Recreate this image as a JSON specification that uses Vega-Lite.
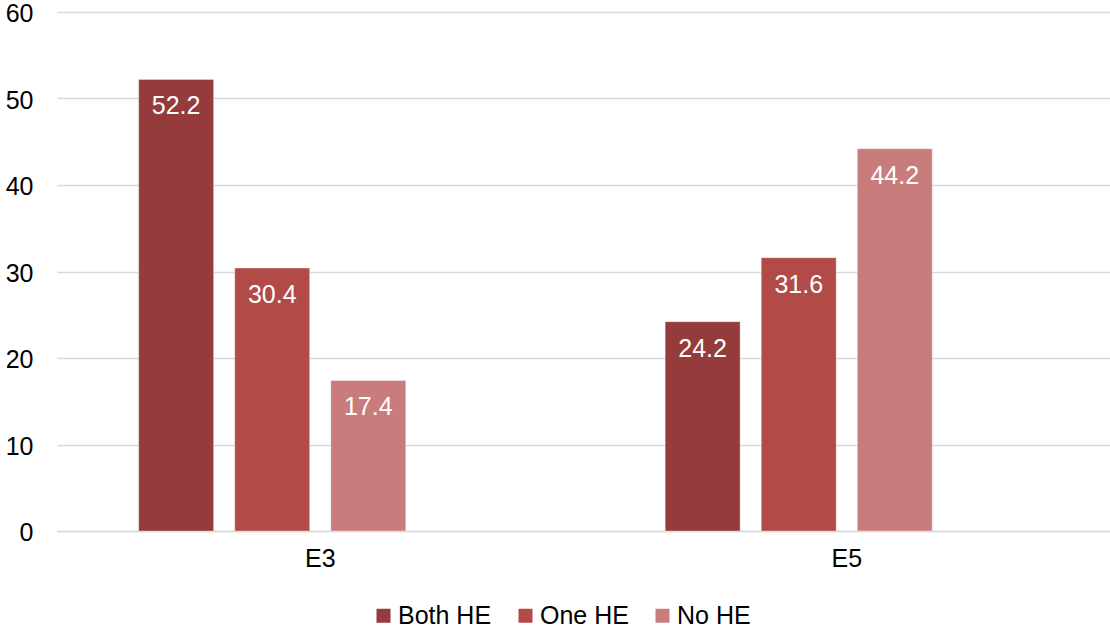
{
  "$schema": "https://vega.github.io/schema/vega-lite/v6.json",
  "width": 1053,
  "height": 519,
  "autosize": "none",
  "padding": {"left": 57, "top": 12, "right": 0, "bottom": 97},
  "background": "white",
  "config": {
    "view": {"stroke": null},
    "font": "Liberation Sans"
  },
  "data": {
    "values": [
      {"group": "E3", "series": "Both HE", "value": 52.2},
      {"group": "E3", "series": "One HE", "value": 30.4},
      {"group": "E3", "series": "No HE", "value": 17.4},
      {"group": "E5", "series": "Both HE", "value": 24.2},
      {"group": "E5", "series": "One HE", "value": 31.6},
      {"group": "E5", "series": "No HE", "value": 44.2}
    ]
  },
  "encoding": {
    "x": {
      "field": "group",
      "type": "nominal",
      "scale": {"paddingInner": 0, "paddingOuter": 0},
      "axis": {
        "title": null,
        "labelAngle": 0,
        "labelFontSize": 25,
        "labelColor": "#000000",
        "labelPadding": 15,
        "ticks": false,
        "domainColor": "#d9d9d9",
        "domainWidth": 1.5
      }
    },
    "xOffset": {
      "field": "series",
      "type": "nominal",
      "scale": {
        "domain": ["Both HE", "One HE", "No HE", "(empty)"],
        "paddingInner": 0.22,
        "paddingOuter": 0.85
      }
    },
    "y": {
      "field": "value",
      "type": "quantitative",
      "scale": {"domain": [0, 60], "nice": false},
      "axis": {
        "title": null,
        "values": [0, 10, 20, 30, 40, 50, 60],
        "labelFontSize": 25,
        "labelColor": "#000000",
        "labelPadding": 24,
        "labelOffset": 1.5,
        "ticks": false,
        "domain": false,
        "gridColor": "#d9d9d9",
        "gridWidth": 1.5
      }
    }
  },
  "layer": [
    {
      "mark": {"type": "bar", "stroke": "#ffffff", "strokeOpacity": 0.35, "strokeWidth": 1},
      "encoding": {
        "color": {
          "field": "series",
          "type": "nominal",
          "scale": {
            "domain": ["Both HE", "One HE", "No HE"],
            "range": ["#953b3b", "#b24a48", "#c97c7c"]
          },
          "legend": {
            "title": null,
            "orient": "none",
            "direction": "horizontal",
            "legendX": 314,
            "legendY": 591,
            "symbolType": "square",
            "symbolSize": 196,
            "symbolStrokeWidth": 0,
            "labelFontSize": 25,
            "labelColor": "#000000",
            "labelLimit": 400,
            "labelOffset": 2,
            "columnPadding": 21,
            "padding": 0
          }
        }
      }
    },
    {
      "mark": {
        "type": "text",
        "baseline": "top",
        "dy": 15,
        "fontSize": 25,
        "color": "#ffffff"
      },
      "encoding": {
        "text": {"field": "value", "type": "quantitative", "format": ".1f"}
      }
    }
  ]
}
